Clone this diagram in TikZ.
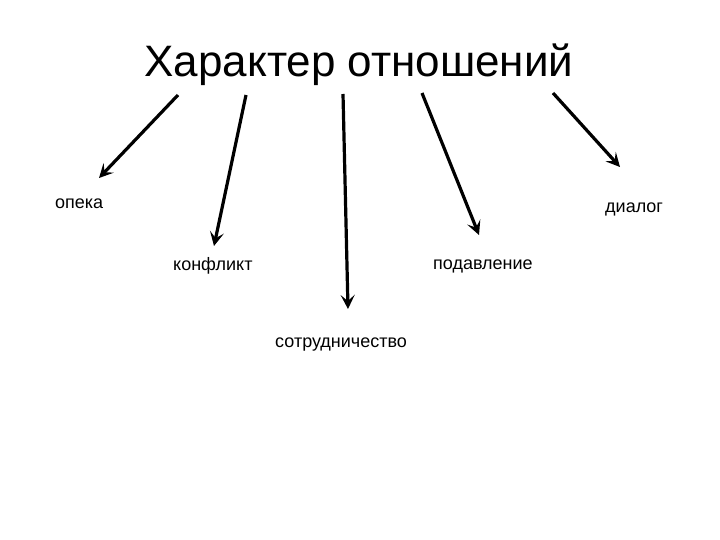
\documentclass[tikz,border=0pt]{standalone}
\usepackage{fontspec}
\setmainfont{Liberation Sans}
\usetikzlibrary{arrows.meta}

\begin{document}
\begin{tikzpicture}[x=1pt, y=-1pt, inner sep=0pt,
	arr/.style={line width=3.2pt, -{Stealth[length=14pt, width=14pt, inset=6pt]}},
	lbl/.style={anchor=base west, font=\fontsize{18}{20}\selectfont}]
	\useasboundingbox (0,0) rectangle (720,540);
	\node (title) at (359,77) [anchor=base, font=\fontsize{44}{50}\selectfont] {Характер отношений};
		\node (opeka) at (55,208) [lbl] {опека};
		\node (dialog) at (605,213) [lbl] {диалог};
			\node (konflikt) at (173,270) [lbl] {конфликт};
			\node (podavl) at (433,269) [lbl] {подавление};
				\node (sotr) at (275,347) [lbl] {сотрудничество};
	\coordinate (s1) at (178,95);
	\coordinate (s2) at (246,95);
	\coordinate (s3) at (343,94);
	\coordinate (s4) at (422,93);
	\coordinate (s5) at (553,93);
	\coordinate (t1) at (99,178);
	\coordinate (t2) at (214,246);
	\coordinate (t3) at (348,309);
	\coordinate (t4) at (479,235);
	\coordinate (t5) at (620,167);
	\draw[arr] (s1) to (t1);
	\draw[arr] (s2) to (t2);
	\draw[arr] (s3) to (t3);
	\draw[arr] (s4) to (t4);
	\draw[arr] (s5) to (t5);
\end{tikzpicture}
\end{document}
